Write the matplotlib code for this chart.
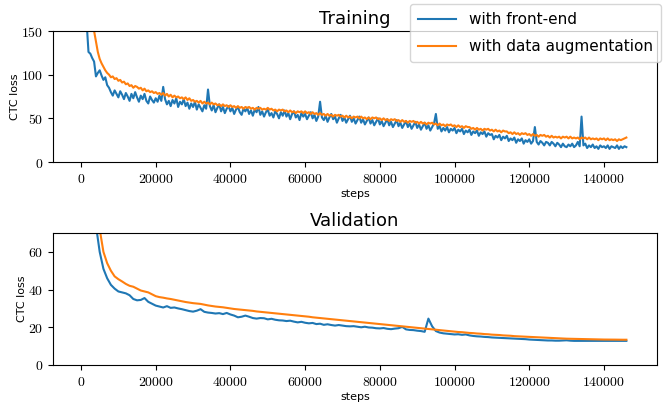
import matplotlib
matplotlib.use("Agg")
import matplotlib.pyplot as plt
from matplotlib.ticker import FuncFormatter

plt.rcParams['mathtext.fontset'] = 'cm'
plt.rcParams['font.family'] = ['DejaVu Sans']

# logged steps: training every 500 steps, validation every 1000 steps
train_steps = list(range(0, 146500, 500))
val_steps = list(range(0, 147000, 1000))

train_frontend = [
    400, 300, 210, 160, 126, 124, 119, 115, 98, 102,
    105, 99, 94, 97, 88, 85, 80, 76, 82, 78,
    74, 81, 77, 72, 79, 75, 70, 78, 73, 80,
    74, 69, 76, 72, 78, 70, 67, 75, 71, 68,
    73, 69, 76, 70, 86, 72, 66, 70, 64, 71,
    67, 73, 63, 69, 66, 72, 64, 68, 61, 67,
    63, 69, 60, 66, 62, 58, 65, 61, 83, 64,
    59, 65, 57, 62, 66, 58, 63, 56, 61, 64,
    58, 62, 55, 60, 63, 57, 54, 61, 58, 62,
    55, 59, 53, 60, 57, 63, 54, 58, 52, 57,
    60, 53, 56, 51, 58, 55, 50, 57, 53, 59,
    52, 56, 49, 55, 58, 51, 54, 48, 56, 52,
    55, 49, 53, 57, 50, 54, 47, 52, 69, 51,
    48, 53, 46, 51, 55, 49, 52, 45, 50, 54,
    47, 51, 45, 49, 53, 46, 50, 44, 48, 52,
    45, 49, 43, 47, 51, 44, 48, 42, 46, 50,
    43, 47, 41, 45, 49, 42, 46, 40, 44, 48,
    41, 45, 39, 43, 47, 40, 44, 38, 42, 46,
    39, 43, 37, 41, 45, 38, 42, 36, 40, 44,
    55, 38, 41, 35, 39, 36, 40, 34, 38, 36,
    39, 33, 37, 35, 38, 32, 36, 34, 37, 31,
    35, 33, 36, 30, 34, 32, 35, 29, 33, 31,
    32, 26, 30, 28, 31, 25, 29, 27, 30, 24,
    27, 25, 28, 22, 26, 24, 27, 21, 25, 23,
    26, 21, 24, 40, 23, 20, 24, 22, 19, 23,
    22, 19, 23, 21, 18, 22, 20, 17, 21, 18,
    17, 20, 18, 21, 17, 19, 23, 18, 52, 19,
    21, 16, 19, 17, 20, 16, 18, 15, 19, 17,
    18, 16, 19, 15, 18, 17, 16, 19, 15, 18,
    16, 18, 17]

train_augment = [
    500, 400, 320, 250, 210, 180, 165, 150, 138, 126,
    118, 113, 109, 105, 102, 100, 97, 98, 95, 96,
    93, 94, 91, 92, 89, 90, 87, 88, 85, 87,
    86, 84, 85, 82, 84, 81, 82, 80, 81, 79,
    80, 78, 79, 77, 79, 76, 78, 75, 77, 74,
    76, 74, 75, 73, 74, 72, 74, 71, 73, 70,
    71, 69, 70, 68, 70, 67, 69, 67, 68, 66,
    68, 66, 67, 65, 66, 64, 66, 64, 65, 63,
    65, 63, 64, 62, 64, 62, 63, 61, 63, 62,
    63, 61, 62, 60, 62, 61, 62, 60, 61, 60,
    62, 60, 61, 59, 60, 58, 60, 59, 60, 58,
    59, 57, 59, 57, 58, 56, 58, 57, 58, 56,
    58, 56, 57, 55, 57, 55, 56, 54, 56, 54,
    55, 53, 55, 53, 54, 52, 54, 53, 54, 52,
    53, 51, 53, 51, 52, 50, 52, 51, 52, 50,
    52, 50, 51, 49, 51, 49, 51, 50, 51, 49,
    50, 48, 50, 48, 49, 47, 49, 48, 49, 47,
    48, 46, 48, 46, 47, 45, 47, 46, 47, 45,
    46, 44, 46, 44, 45, 43, 45, 44, 45, 43,
    44, 42, 44, 42, 43, 41, 43, 42, 43, 41,
    42, 40, 42, 40, 41, 39, 41, 40, 40, 38,
    39, 37, 39, 37, 38, 36, 38, 37, 38, 36,
    37, 35, 37, 35, 36, 34, 36, 35, 35, 33,
    34, 32, 34, 32, 33, 31, 33, 32, 33, 31,
    32, 30, 32, 30, 31, 29, 31, 30, 31, 29,
    30, 28, 30, 28, 29, 28, 29, 27, 29, 28,
    29, 27, 29, 27, 28, 27, 28, 26, 28, 27,
    28, 26, 28, 26, 27, 26, 27, 25, 27, 26,
    27, 25, 27, 25, 26, 25, 26, 24, 26, 25,
    26, 27, 28]

val_frontend = [300, 200, 130, 95, 74, 60, 51, 46, 42.5, 40.5,
                39, 38.5, 38, 37, 35, 34.3, 34.5, 35.5, 33.5, 32.5,
                31.5, 31, 30.5, 31.2, 30.3, 30.5, 30, 29.6, 29.1, 28.6,
                28.3, 28.8, 29.6, 28.2, 27.8, 27.6, 27.3, 27.5, 27.0, 27.6,
                26.8, 26.2, 25.3, 25.6, 26.2, 25.6, 24.9, 24.6, 24.9, 24.8,
                24.2, 24.5, 24.0, 23.7, 23.6, 23.3, 23.5, 23.0, 22.6, 22.9,
                22.4, 22.1, 22.3, 21.7, 21.9, 21.3, 21.6, 21.2, 20.9, 21.2,
                20.9, 20.6, 20.5, 20.6, 20.3, 20.0, 20.3, 19.9, 19.8, 19.5,
                19.4, 19.6, 19.2, 19.0, 19.3, 19.5, 20.2, 18.9, 18.6, 18.5,
                18.2, 18.0, 17.6, 24.6, 20.5, 18.0, 17.2, 16.8, 16.6, 16.4,
                16.2, 16.3, 16.0, 16.2, 15.7, 15.4, 15.2, 15.1, 14.9, 14.8,
                14.6, 14.5, 14.4, 14.3, 14.2, 14.1, 14.0, 13.9, 13.8, 13.7,
                13.5, 13.4, 13.3, 13.2, 13.1, 13.0, 13.0, 12.9, 12.9, 13.0,
                13.1, 12.9, 12.8, 12.8, 12.8, 12.8, 12.8, 12.8, 12.8, 12.8,
                12.8, 12.8, 12.8, 12.8, 12.8, 12.8, 12.8]

val_augment = [400, 280, 190, 130, 95, 72, 60, 54, 50, 47,
               45.5, 44.3, 43, 42, 41.5, 40.5, 39.5, 39, 38.5, 37.5,
               36.5, 36, 35.7, 35.3, 35, 34.6, 34.2, 33.8, 33.4, 33.1,
               32.8, 32.6, 32.4, 32, 31.6, 31.3, 31, 30.8, 30.6, 30.3,
               30.0, 29.7, 29.5, 29.3, 29.1, 28.9, 28.7, 28.4, 28.2, 28.0,
               27.8, 27.6, 27.4, 27.2, 27.0, 26.8, 26.6, 26.4, 26.2, 26.0,
               25.8, 25.6, 25.3, 25.1, 24.9, 24.7, 24.5, 24.3, 24.1, 23.9,
               23.7, 23.5, 23.3, 23.1, 22.9, 22.7, 22.5, 22.3, 22.1, 21.9,
               21.7, 21.5, 21.3, 21.1, 20.9, 20.7, 20.5, 20.3, 20.1, 19.9,
               19.7, 19.5, 19.3, 19.1, 18.9, 18.7, 18.5, 18.3, 18.1, 17.9,
               17.7, 17.5, 17.4, 17.2, 17.0, 16.9, 16.7, 16.6, 16.4, 16.3,
               16.1, 16.0, 15.9, 15.7, 15.6, 15.5, 15.3, 15.2, 15.1, 15.0,
               14.9, 14.8, 14.7, 14.6, 14.5, 14.4, 14.3, 14.2, 14.1, 14.0,
               13.95, 13.9, 13.85, 13.8, 13.75, 13.7, 13.65, 13.6, 13.6, 13.55,
               13.5, 13.5, 13.45, 13.45, 13.4, 13.4, 13.4]

series_labels = ["with front-end", "with data augmentation"]
titles = ["Training", "Validation"]
x_ticks = [0, 20000, 40000, 60000, 80000, 100000, 120000, 140000]
train_yticks = [0, 50, 100, 150]
val_yticks = [0, 20, 40, 60]

W, H = 664, 407
fig = plt.figure(figsize=(W / 100, H / 100), dpi=100)
ax1 = fig.add_axes([53 / W, 1 - 162 / H, (657 - 53) / W, (162 - 31) / H])
ax2 = fig.add_axes([53 / W, 1 - 365 / H, (657 - 53) / W, (365 - 233) / H])

blue, orange = '#1f77b4', '#ff7f0e'
l1, = ax1.plot(train_steps, train_frontend, color=blue, lw=1.5, label=series_labels[0])
l2, = ax1.plot(train_steps, train_augment, color=orange, lw=1.5, label=series_labels[1])
ax2.plot(val_steps, val_frontend, color=blue, lw=1.5)
ax2.plot(val_steps, val_augment, color=orange, lw=1.5)

fmt = FuncFormatter(lambda v, p: r'$%d$' % int(round(v)))
for ax, title, yt, ylim in [(ax1, titles[0], train_yticks, (0, 150)),
                            (ax2, titles[1], val_yticks, (0, 70))]:
    ax.set_xlim(-7500, 154200)
    ax.set_ylim(*ylim)
    ax.set_xticks(x_ticks)
    ax.set_yticks(yt)
    ax.xaxis.set_major_formatter(fmt)
    ax.yaxis.set_major_formatter(fmt)
    ax.tick_params(labelsize=10)
    ax.set_xlabel("steps", fontsize=8, labelpad=2)
    ax.set_ylabel("CTC loss", fontsize=8, labelpad=0.5)
    ax.set_title(title, fontsize=13, pad=5)

fig.legend(handles=[l1, l2], loc='upper right', bbox_to_anchor=(661 / W, 1 - 4 / H),
           borderaxespad=0, fontsize=11, handlelength=2.5, handletextpad=0.8,
           labelspacing=0.75, borderpad=0.55)

fig.savefig("out.png", dpi=100)
